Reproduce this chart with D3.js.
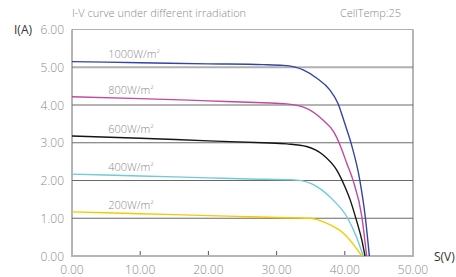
<!DOCTYPE html>
<html lang="en">
<head>
  <meta charset="UTF-8">
  <title>I-V curve</title>
  <script src="https://d3js.org/d3.v7.min.js"></script>
  <style>
    body { margin: 0; background: #fff; }
    svg { display: block; font-family: 'Open Sans', 'Liberation Sans', sans-serif; }
    .lbl { fill: #8a8a8a; font-size: 11px; font-weight: 300; }
    .tick-lbl { fill: #8a8a8a; font-size: 12px; font-weight: 300; }
    .axis-name { fill: #333; font-size: 12px; }
  </style>
</head>
<body>
  <svg width="456" height="277"></svg>
  <script>
    // irradiation series, voltage (V) and current (A)
    const series = ["1000W/m", "800W/m", "600W/m", "400W/m", "200W/m"];
    const colors = ["#3344a6", "#c04a9e", "#151515", "#6fcbd5", "#f7c900"];
    const volt1000 = [0, 10, 20, 28, 31, 33.9, 35.9, 37.8, 39.0, 40.0, 40.9, 42.2, 43.0, 43.6];
    const amp1000  = [5.15, 5.12, 5.09, 5.07, 5.05, 4.93, 4.71, 4.40, 4.04, 3.51, 3.0, 2.01, 1.04, 0];
    const volt800  = [0, 10, 20, 28, 31.5, 34.4, 36.8, 38.4, 39.5, 40.3, 41.2, 42.5, 43.2];
    const amp800   = [4.22, 4.17, 4.11, 4.06, 4.03, 3.91, 3.60, 3.28, 2.85, 2.45, 2.01, 1.04, 0];
    const volt600  = [0, 10, 20, 28, 31.5, 34.4, 36.8, 38.8, 40.0, 40.8, 41.7, 42.5, 42.96];
    const amp600   = [3.18, 3.12, 3.05, 3.0, 2.97, 2.90, 2.68, 2.28, 1.84, 1.48, 0.95, 0.42, 0];
    const volt400  = [0, 10, 20, 26, 32.9, 35.9, 38.3, 40.3, 41.7, 42.7];
    const amp400   = [2.17, 2.12, 2.07, 2.04, 2.01, 1.84, 1.48, 1.04, 0.51, 0];
    const volt200  = [0, 10, 20, 26, 30, 34.9, 37.3, 39.8, 41.5, 42.5];
    const amp200   = [1.17, 1.12, 1.07, 1.04, 1.02, 1.0, 0.87, 0.60, 0.25, 0];
    const labelAmps = [5.3, 4.35, 3.3, 2.3, 1.3];
    const xTicks = [0, 10, 20, 30, 40, 50];
    const yTicks = [0, 1, 2, 3, 4, 5, 6];

    const volts = [volt1000, volt800, volt600, volt400, volt200];
    const amps = [amp1000, amp800, amp600, amp400, amp200];

    const svg = d3.select("svg");
    const x = d3.scaleLinear().domain([0, 50]).range([72, 413]);
    const y = d3.scaleLinear().domain([0, 6]).range([256, 29.5]);

    // horizontal grid
    svg.append("g").selectAll("line")
      .data(yTicks.filter(d => d > 0))
      .enter().append("line")
      .attr("x1", x(0)).attr("x2", x(50))
      .attr("y1", d => y(d)).attr("y2", d => y(d))
      .attr("stroke", d => d >= 5 ? "#b0b0b0" : "#6a6a6a")
      .attr("stroke-width", d => d == 5 ? 1.8 : 1);

    // side borders
    svg.append("line").attr("x1", x(0)).attr("x2", x(0)).attr("y1", y(6)).attr("y2", y(0))
      .attr("stroke", "#6a6a6a");
    svg.append("line").attr("x1", x(50)).attr("x2", x(50)).attr("y1", y(6)).attr("y2", y(0))
      .attr("stroke", "#6a6a6a");

    // x ticks, pointing up
    svg.append("g").selectAll("line")
      .data(xTicks.slice(1, -1))
      .enter().append("line")
      .attr("x1", d => x(d)).attr("x2", d => x(d))
      .attr("y1", y(0)).attr("y2", y(0) - 5)
      .attr("stroke", "#555");

    // bottom axis line
    svg.append("line").attr("x1", x(0) - 1).attr("x2", x(50) + 1).attr("y1", y(0)).attr("y2", y(0))
      .attr("stroke", "#b5b5b5").attr("stroke-width", 2);

    // tick labels
    svg.append("g").selectAll("text")
      .data(xTicks)
      .enter().append("text")
      .attr("class", "tick-lbl")
      .attr("x", d => x(d)).attr("y", 274)
      .attr("text-anchor", "middle")
      .text(d => d.toFixed(2));
    svg.append("g").selectAll("text")
      .data(yTicks)
      .enter().append("text")
      .attr("class", "tick-lbl")
      .attr("x", 64).attr("y", d => y(d) + 4.5)
      .attr("text-anchor", "end")
      .text(d => d.toFixed(2));

    // curves
    const line = d3.line().x(d => x(d[0])).y(d => y(d[1])).curve(d3.curveMonotoneX);
    series.forEach((s, i) => {
      const pts = volts[i].map((v, j) => [v, amps[i][j]]);
      svg.append("path")
        .attr("d", line(pts))
        .attr("fill", "none")
        .attr("stroke", colors[i])
        .attr("stroke-width", 1.4);

      const t = svg.append("text")
        .attr("class", "lbl")
        .attr("x", x(5.3)).attr("y", y(labelAmps[i]) + 2);
      t.append("tspan").text(s);
      t.append("tspan").attr("font-size", "6px").attr("dy", -5).text("2");
    });

    // titles
    svg.append("text").attr("class", "lbl").attr("x", 72).attr("y", 17)
      .text("I-V curve under different irradiation");
    svg.append("text").attr("class", "lbl").attr("x", 401).attr("y", 17)
      .attr("text-anchor", "end").text("CellTemp:25");
    svg.append("text").attr("class", "axis-name").attr("x", 14).attr("y", 34).text("I(A)");
    svg.append("text").attr("class", "axis-name").attr("x", 434).attr("y", 261).text("S(V)");
  </script>
</body>
</html>
